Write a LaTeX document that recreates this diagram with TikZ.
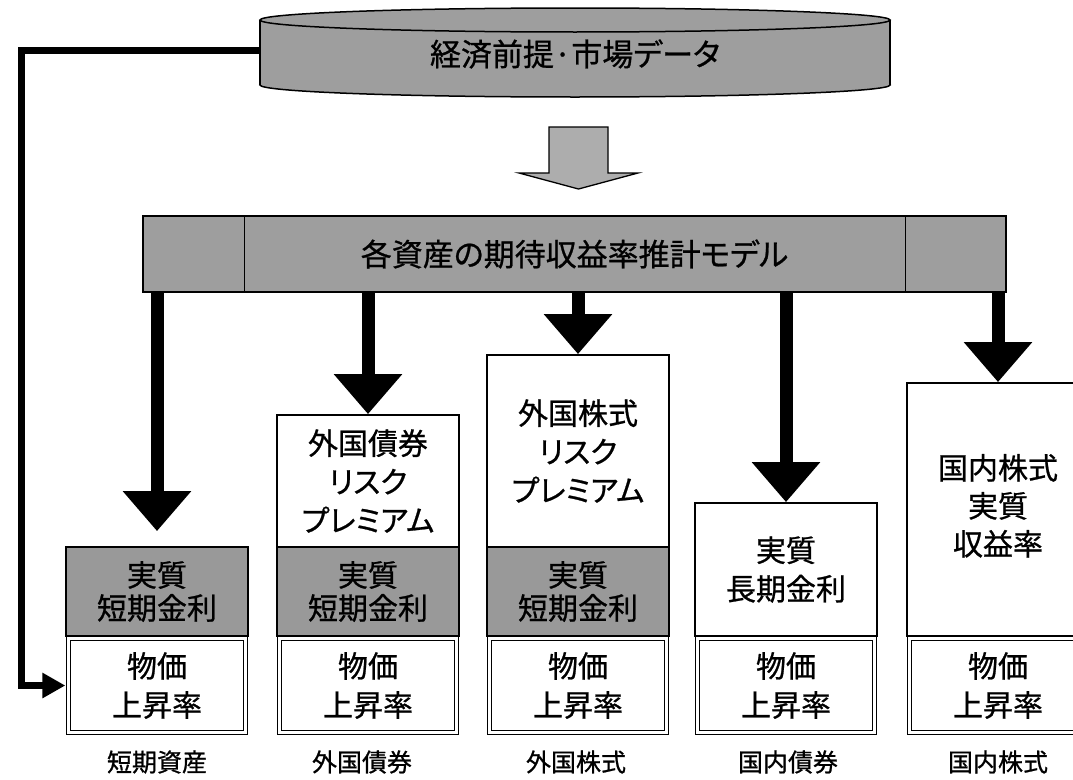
\documentclass[tikz,border=0pt]{standalone}
\usepackage{fontspec}
\newfontfamily\jp[RawFeature=+palt, FakeBold=0.8]{Noto Sans CJK JP}
\usetikzlibrary{arrows.meta}
\begin{document}
\begin{tikzpicture}[x=1pt,y=-1pt,
  frame/.style={draw, line width=1.8pt, inner sep=0pt, align=center, minimum width=182pt},
  whitebox/.style={frame, fill=white, font=\jp\fontsize{30}{38.5}\selectfont},
  shadebox/.style={frame, fill=black!40, font=\jp\fontsize{30}{33}\selectfont},
  pricebox/.style={draw, line width=1.3pt, double=white, double distance=2.5pt, fill=white,
    inner sep=0pt, align=center, minimum width=177pt, minimum height=94pt,
    font=\jp\fontsize{30}{39}\selectfont},
  flow/.style={line width=13pt, -{Triangle[length=40pt,width=66pt]}},
  tag/.style={font=\jp\fontsize{25}{25}\selectfont},
  texture/.style={fill=black!38}
]
\clip (0,0) rectangle (1073,779);
\fill[white] (0,0) rectangle (1073,779);

% cylinder: economic assumptions / market data
\draw[line width=1.5pt, texture] (575,85) ellipse [x radius=315pt, y radius=12pt];
\fill[black!38] (260,20) rectangle (890,85);
\draw[line width=1.5pt] (260,20) -- (260,85) (890,20) -- (890,85);
\draw[line width=1.5pt, texture] (575,20) ellipse [x radius=315pt, y radius=12pt];
\node[minimum width=630pt, minimum height=68pt, inner sep=0pt,
      font=\jp\fontsize{31}{31}\selectfont] (data) at (575,54) {経済前提·市場データ};

% hollow block arrow
\draw[line width=1.3pt, fill=black!32]
  (549,127) -- (608,127) -- (608,173) -- (638,173) -- (578.5,189)
  -- (519,173) -- (549,173) -- cycle;

% model bar
\node[draw, line width=1.5pt, texture, minimum width=863pt, minimum height=76pt, inner sep=0pt,
      font=\jp\fontsize{31}{31}\selectfont] (model) at (574.5,254) {各資産の期待収益率推計モデル};
\draw[line width=1.2pt] ([xshift=102pt]model.north west) -- ([xshift=102pt]model.south west);
\draw[line width=1.2pt] ([xshift=-101pt]model.north east) -- ([xshift=-101pt]model.south east);

% column 1: short-term assets
\node[shadebox, minimum height=89pt] (s1) at (157,591.5) {実質\\短期金利};
\node[pricebox] (p1) at (157,685.5) {物価\\上昇率};

% column 2: foreign bonds
\node[whitebox, minimum height=132pt] (t2) at (368,481) {外国債券\\リスク\\プレミアム};
\node[shadebox, minimum height=89pt] (s2) at (368,591.5) {実質\\短期金利};
\node[pricebox] (p2) at (368,685.5) {物価\\上昇率};

% column 3: foreign equities
\node[whitebox, minimum height=192pt] (t3) at (578,451) {外国株式\\リスク\\プレミアム};
\node[shadebox, minimum height=89pt] (s3) at (578,591.5) {実質\\短期金利};
\node[pricebox] (p3) at (578,685.5) {物価\\上昇率};

% column 4: domestic bonds
\node[whitebox, minimum height=133pt] (t4) at (786,569.5) {実質\\長期金利};
\node[pricebox] (p4) at (786,685.5) {物価\\上昇率};

% column 5: domestic equities
\node[whitebox, minimum height=253pt] (t5) at (998,509.5) {\raisebox{-8pt}{\begin{tabular}{@{}c@{}}国内株式\\[-0.5pt]実質\\[-0.5pt]収益率\end{tabular}}};
\node[pricebox] (p5) at (998,685.5) {物価\\上昇率};

% arrows from the model bar
\draw[flow, shorten >=15pt] (model.south -| s1.north) -- (s1.north);
\draw[flow] (model.south -| t2.north) -- (t2.north);
\draw[flow] (model.south -| t3.north) -- (t3.north);
\draw[flow] (model.south -| t4.north) -- (t4.north);
\draw[flow] (model.south -| t5.north) -- (t5.north);

% feedback line from the data to the inflation box of short-term assets
\coordinate (loop) at (21,400);
\draw[line width=7pt, line join=miter, shorten >=2.5pt, -{Triangle[length=23pt,width=24pt]}]
  ([yshift=4pt]data.west) -| (loop) |- (p1.west);

% bottom labels
\node[tag] (l1) at (157,762) {短期資産};
\node[tag] (l2) at (362,762) {外国債券};
\node[tag] (l3) at (576,762) {外国株式};
\node[tag] (l4) at (788,762) {国内債券};
\node[tag] (l5) at (998,762) {国内株式};
\end{tikzpicture}
\end{document}
